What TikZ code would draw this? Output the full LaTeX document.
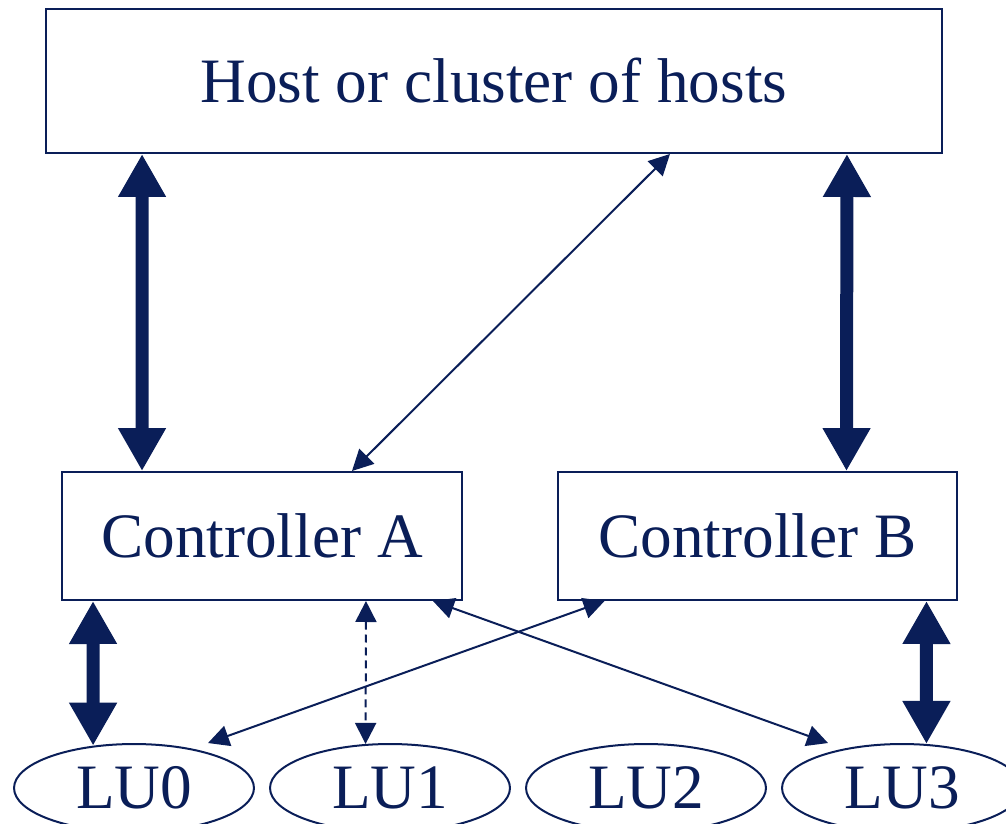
\documentclass[tikz,border=0pt]{standalone}
\usepackage{fontspec}
\setmainfont{Liberation Serif}
\usepackage{tikz}
\usetikzlibrary{arrows.meta,shapes.geometric}
\definecolor{navy}{RGB}{10,30,88}

\begin{document}
\begin{tikzpicture}
  [x=0.02cm,y=-0.02cm,
   every node/.style={draw=navy,line width=0.04cm,text=navy,font=\fontsize{36}{40}\selectfont,inner sep=0pt},
   box/.style={rectangle,minimum height=2.56cm,minimum width=8cm},
   lu/.style={ellipse,minimum width=4.8cm,minimum height=1.76cm},
   fat/.style={draw=navy,line width=0.26cm,{Triangle[width=0.9cm,length=0.86cm]}-{Triangle[width=0.9cm,length=0.86cm]}},
   thin/.style={draw=navy,line width=0.04cm,{Triangle[width=0.42cm,length=0.42cm]}-{Triangle[width=0.42cm,length=0.42cm]}}]

  \useasboundingbox (0,0) rectangle (1006,823);

  \node[rectangle,minimum width=17.92cm,minimum height=2.88cm] (host) at (494,81) {Host or cluster of hosts};
  \node[box] (ctrlA) at (262,536) {Controller A};
  \node[box] (ctrlB) at (757.5,536) {Controller B};
  \node[lu] (lu0) at (134,788) {LU0};
  \node[lu] (lu1) at (390,788) {LU1};
  \node[lu] (lu2) at (646,788) {LU2};
  \node[lu] (lu3) at (902,788) {LU3};

  % host links
  \draw[fat] ([xshift=1.94cm]host.south west) -- ([xshift=1.62cm]ctrlA.north west);
  \draw[fat] ([xshift=-1.92cm]host.south east) -- ([xshift=-2.24cm]ctrlB.north east);
  \draw[thin] ([xshift=3.52cm]host.south) -- ([xshift=1.8cm]ctrlA.north);

  % controller to LU links
  \draw[fat] ([xshift=0.64cm]ctrlA.south west) -- (lu0.134);
  \draw[fat] ([xshift=-0.64cm]ctrlB.south east) -- (lu3.61);
  \draw[thin,dash pattern=on 0.16cm off 0.1cm] ([xshift=2.08cm]ctrlA.south) -- (lu1.119);
  \foreach \from/\fs/\to/\ts in {ctrlB.south west/0.96cm/lu0.north/1.48cm,ctrlA.south east/-0.6cm/lu3.north/-1.48cm}
    \draw[thin] ([xshift=\fs]\from) -- ([xshift=\ts]\to);
\end{tikzpicture}
\end{document}
